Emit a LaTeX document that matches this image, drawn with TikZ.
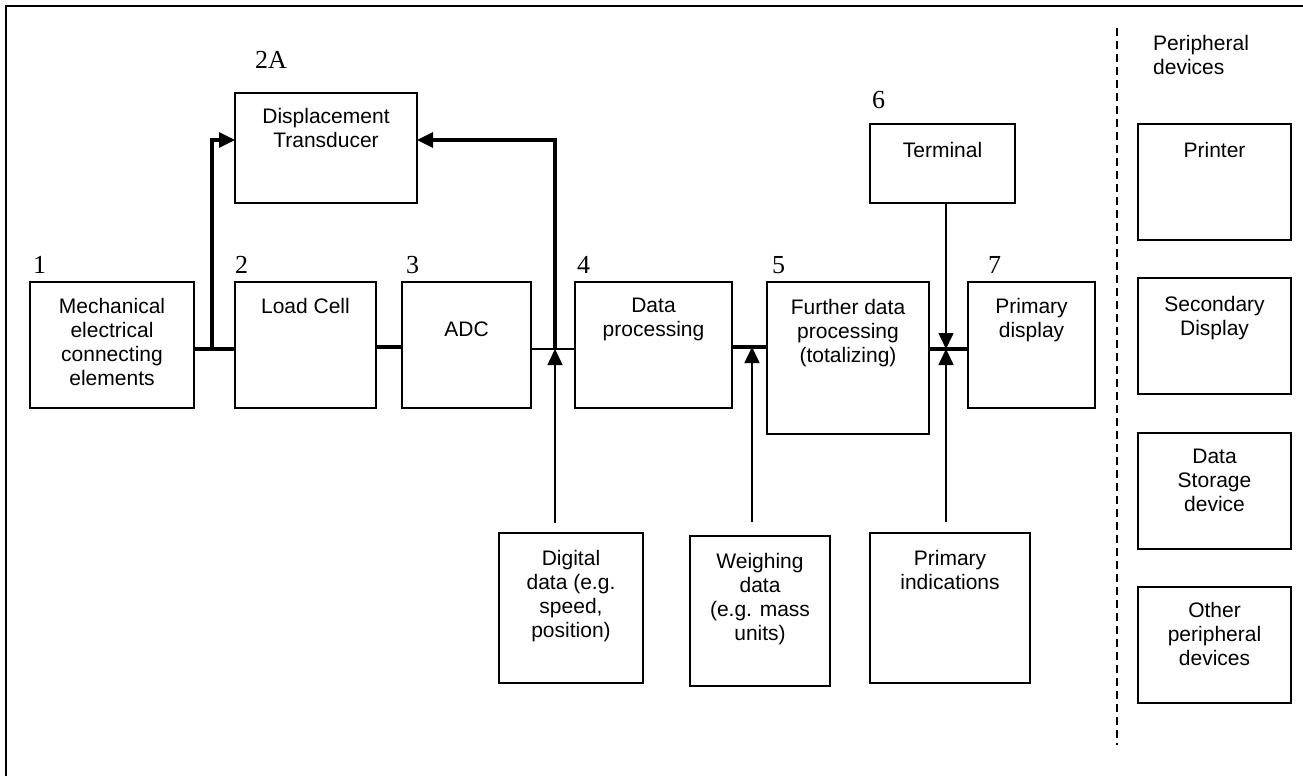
\documentclass[tikz,border=0pt]{standalone}
\usepackage{fontspec}
\setmainfont{Liberation Sans}
\newfontfamily\numfont{Liberation Serif}
\usetikzlibrary{arrows.meta}
\begin{document}
\begin{tikzpicture}[x=1pt,y=-1pt,
  box/.style={draw, line width=1.8pt, inner sep=0pt, outer sep=0pt, anchor=north west},
  txt/.style={font=\fontsize{21}{24}\selectfont, align=center, inner sep=0pt, anchor=north},
  num/.style={font=\numfont\fontsize{26}{30}\selectfont, inner sep=0pt, anchor=base west},
  conn/.style={line width=1.6pt},
  bus/.style={line width=3.2pt},
  tip/.style={-{Triangle[length=16pt,width=15pt]}},
  frame/.style={line width=2.4pt},
  divider/.style={line width=2pt, dash pattern=on 8pt off 5pt}]
\useasboundingbox (0,0) rectangle (1303,776);
% frame
\draw[frame] (6,776) -- (6,6) -- (1303,6);
% boxes
\node[box, minimum width=164pt, minimum height=126pt] (b1) at (30,282) {};
\node[box, minimum width=141pt, minimum height=126pt] (b2) at (235,282) {};
\node[box, minimum width=182pt, minimum height=110pt] (b2a) at (235,93) {};
\node[box, minimum width=129pt, minimum height=126pt] (b3) at (402,282) {};
\node[box, minimum width=157pt, minimum height=126pt] (b4) at (575,282) {};
\node[box, minimum width=162pt, minimum height=152pt] (b5) at (767,282) {};
\node[box, minimum width=145pt, minimum height=79pt] (b6) at (870,124) {};
\node[box, minimum width=127pt, minimum height=126pt] (b7) at (968,282) {};
\node[box, minimum width=144pt, minimum height=150pt] (dd) at (499,533) {};
\node[box, minimum width=140pt, minimum height=150pt] (wd) at (690,536) {};
\node[box, minimum width=160pt, minimum height=150pt] (pi) at (870,533) {};
\node[box, minimum width=153pt, minimum height=116pt] (pr) at (1138,124) {};
\node[box, minimum width=153pt, minimum height=116pt] (sd) at (1138,278) {};
\node[box, minimum width=153pt, minimum height=116pt] (ds) at (1138,433) {};
\node[box, minimum width=153pt, minimum height=116pt] (op) at (1138,587) {};
% texts
\node[txt] (t1) at ([yshift=-16pt]b1.north) {Mechanical\\electrical\\connecting\\elements};
\node[txt] (t2) at ([yshift=-16pt]b2.north) {Load Cell};
\node[txt] (t2a) at ([yshift=-15pt]b2a.north) {Displacement\\Transducer};
\node[txt] (t3) at ([yshift=-40pt]b3.north) {ADC};
\node[txt] (t4) at ([yshift=-16pt]b4.north) {Data\\processing};
\node[txt] (t5) at ([yshift=-17pt]b5.north) {Further data\\processing\\(totalizing)};
\node[txt] (t6) at ([yshift=-18pt]b6.north) {Terminal};
\node[txt] (t7) at ([yshift=-16pt]b7.north) {Primary\\display};
\node[txt] (tdd) at ([yshift=-17pt]dd.north) {Digital\\data (e.g.\\speed,\\position)};
\node[txt] (twd) at ([yshift=-17pt]wd.north) {Weighing\\data\\(e.g. mass\\units)};
\node[txt] (tpi) at ([yshift=-17pt]pi.north) {Primary\\indications};
\node[txt] (tpr) at ([yshift=-18pt]pr.north) {Printer};
\node[txt] (tsd) at ([yshift=-18pt]sd.north) {Secondary\\Display};
\node[txt] (tds) at ([yshift=-16pt]ds.north) {Data\\Storage\\device};
\node[txt] (top) at ([yshift=-15pt]op.north) {Other\\peripheral\\devices};
\node[txt, anchor=north west, align=left] (perh) at (1153,35) {Peripheral\\devices};
% numbers
\node[num] (n1) at (33,273) {1};
\node[num] (n2) at (235,273) {2};
\node[num] (n2a) at (255,69) {2A};
\node[num] (n3) at (406,273) {3};
\node[num] (n4) at (577,273) {4};
\node[num] (n5) at (772,273) {5};
\node[num] (n6) at (872,108) {6};
\node[num] (n7) at (988,273) {7};
% divider
\coordinate (dv1) at (1117,28);
\coordinate (dv2) at (1117,745);
\draw[divider] (dv1) -- (dv2);
% junctions
\coordinate (jL) at (212,349);
\coordinate (cL) at (212,140);
\coordinate (jB) at (300,347);
\coordinate (jA) at (555,349);
\coordinate (cA) at (555,140);
\coordinate (jW) at (752,347);
\coordinate (jT) at (946,349);
% connectors
\draw[bus] (b1.east |- jL) -- (b2.west |- jL);
\draw[bus, tip] (jL) -- (cL) -- (b2a.west |- cL);
\draw[bus] (b2.east |- jB) -- (b3.west |- jB);
\draw[conn] (b3.east |- jA) -- (b4.west |- jA);
\draw[bus, tip] (jA) -- (cA) -- (b2a.east |- cA);
\draw[conn, tip] ([yshift=10pt]dd.north -| jA) -- (jA);
\draw[bus] (b4.east |- jW) -- (b5.west |- jW);
\draw[conn, tip] ([yshift=14pt]wd.north -| jW) -- (jW);
\draw[bus] (b5.east |- jT) -- (b7.west |- jT);
\draw[conn, tip] (b6.south -| jT) -- (jT);
\draw[conn, tip] ([yshift=11pt]pi.north -| jT) -- (jT);
\end{tikzpicture}
\end{document}
